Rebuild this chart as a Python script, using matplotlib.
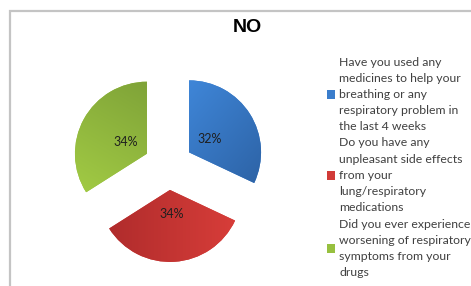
import numpy as np
import matplotlib
matplotlib.use("Agg")
import matplotlib.pyplot as plt
from matplotlib.patches import Rectangle
from matplotlib.colors import to_rgb

# data
title = "NO"
questions = [
    "Have you used any medicines to help your breathing or any respiratory problem in the last 4 weeks",
    "Do you have any unpleasant side effects from your lung/respiratory medications",
    "Did you ever experience worsening of respiratory symptoms from your drugs",
]
legend_lines = [
    ["Have you used any", "medicines to help your", "breathing or any",
     "respiratory problem in", "the last 4 weeks"],
    ["Do you have any", "unpleasant side effects", "from your",
     "lung/respiratory", "medications"],
    ["Did you ever experience", "worsening of respiratory",
     "symptoms from your", "drugs"],
]
shares = [32, 34, 34]
colors = ["#3a7dcc", "#d13b38", "#97c03f"]
# light / dark ends of the slice shading, and gradient direction (deg)
shade = [("#3f86d8", "#2d63a6", -40), ("#b02c2c", "#d73d39", 0), ("#a2cb44", "#7fa338", 60)]

W, H = 471, 286
fig = plt.figure(figsize=(W / 100, H / 100), dpi=100)

# chart frame (cut off at right/bottom like the screenshot)
fig.patches.append(Rectangle((10 / W, -0.1), 1.2, 1.1 - 10.5 / H, transform=fig.transFigure,
                             fill=False, edgecolor="#c4c4c4", lw=1.6))

fig.text(247 / W, 1 - 32 / H, title, ha="center", va="baseline",
         fontsize=14, fontweight="bold", family="Liberation Sans", color="black")

# pie: centre at (168, 165) px, radius 72 px
R = 72
lim = 1.5
cx, cy = 168.4, 165.5
aw, ah = 2 * lim * R / W, 2 * lim * R / H
ax = fig.add_axes([cx / W - aw / 2, 1 - cy / H - ah / 2, aw, ah])
wedges, texts, autotexts = ax.pie(
    shares, colors=colors, startangle=90, counterclock=False,
    explode=[0.34] * 3, radius=1, pctdistance=0.34,
    autopct=lambda p: f"{p:.0f}%",
    wedgeprops=dict(linewidth=0),
    textprops=dict(fontsize=9, color="#1f1f1f", family="Lato"),
)

for w, (c0, c1, ang) in zip(wedges, shade):
    x0, y0, x1, y1 = w.get_path().get_extents().extents
    gx, gy = np.meshgrid(np.linspace(x0, x1, 120), np.linspace(y0, y1, 120))
    a = np.deg2rad(ang)
    t = gx * np.cos(a) + gy * np.sin(a)
    t = (t - t.min()) / (t.max() - t.min())
    img = (1 - t)[..., None] * np.array(to_rgb(c0)) + t[..., None] * np.array(to_rgb(c1))
    im = ax.imshow(img, extent=(x0, x1, y0, y1), origin="lower", zorder=1.5,
                   interpolation="bilinear")
    im.set_clip_path(w)

for t in autotexts:
    t.set_zorder(5)

ax.set_xlim(-lim, lim)
ax.set_ylim(-lim, lim)
ax.set_aspect("auto")
ax.axis("off")

# legend drawn line by line
line_h = 16.2
y0 = 62
fs = 8.8
text_x = 339
k = 0
for lines, col in zip(legend_lines, colors):
    mid = y0 + (k + (len(lines) - 1) / 2) * line_h
    fig.patches.append(Rectangle(((331 - 4.2) / W, 1 - (mid + 4.2) / H), 8.4 / W, 8.4 / H,
                                 transform=fig.transFigure, facecolor=col, edgecolor="none"))
    for ln in lines:
        fig.text(text_x / W, 1 - (y0 + k * line_h) / H, ln, ha="left", va="center",
                 fontsize=fs, family="Lato", color="#404040")
        k += 1

fig.savefig("out.png", dpi=100)
